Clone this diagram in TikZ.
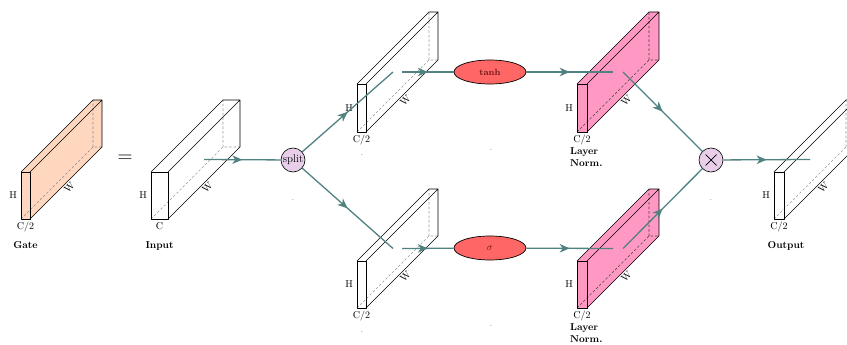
\documentclass[tikz,border=0pt]{standalone}
\usetikzlibrary{shapes.geometric,arrows.meta,decorations.markings,calc}
\definecolor{edgec}{RGB}{80,130,130}
\definecolor{gatec}{RGB}{255,214,190}
\definecolor{lnc}{RGB}{255,153,196}
\definecolor{ellc}{RGB}{255,102,102}
\definecolor{ellt}{RGB}{110,20,20}
\definecolor{ballc}{RGB}{233,206,233}
\tikzset{
  conn/.style={draw=edgec, line width=1.3pt, postaction={decorate},
    decoration={markings, mark=at position 0.5 with {\arrow[edgec]{Stealth[length=10pt,width=8.5pt,inset=3pt]}}}},
  frontedge/.style={draw=black, line width=0.9pt, line join=round},
  backedge/.style={draw=black, line width=0.6pt, line join=round},
  lbl/.style={inner sep=0pt, font=\normalsize},
  capt/.style={inner sep=0pt, font=\bfseries},
  opball/.style={circle, draw=black, line width=0.6pt, fill=ballc, minimum size=24pt, inner sep=0pt},
  actell/.style={ellipse, draw=black, line width=0.7pt, fill=ellc, minimum width=72pt, minimum height=24pt, inner sep=0pt, text=ellt},
  tinydot/.style={inner sep=0pt, font=\scriptsize}
}
% #1 name, #2 left x, #3 top y, #4 width, #5 height, #6 fill, #7 hidden-edge colour, #8 C label
\newcommand{\cuboid}[8]{%
  \pgfmathsetmacro\cbXr{#2+#4}%
  \pgfmathsetmacro\cbYb{#3+#5}%
  \pgfmathsetmacro\cbYm{#3+#5/2}%
  \pgfmathsetmacro\cbXc{#2+#4/2}%
  \coordinate (#1-ftl) at (#2,#3);
  \coordinate (#1-ftr) at (\cbXr,#3);
  \coordinate (#1-fbl) at (#2,\cbYb);
  \coordinate (#1-fbr) at (\cbXr,\cbYb);
  \coordinate (#1-btl) at ($(#1-ftl)+(72,-72)$);
  \coordinate (#1-btr) at ($(#1-ftr)+(72,-72)$);
  \coordinate (#1-bbl) at ($(#1-fbl)+(72,-72)$);
  \coordinate (#1-bbr) at ($(#1-fbr)+(72,-72)$);
  \coordinate (#1-west) at ($(#2,\cbYm)+(36,-36)$);
  \coordinate (#1-east) at ($(\cbXr,\cbYm)+(36,-36)$);
  \fill[#6] (#1-ftl) -- (#1-btl) -- (#1-btr) -- (#1-bbr) -- (#1-fbr) -- (#1-fbl) -- cycle;
  \fill[#6] (#1-ftl) -- (#1-ftr) -- (#1-fbr) -- (#1-fbl) -- cycle;
  \draw[#7, dashed, line width=0.55pt, dash pattern=on 2.5pt off 2pt] (#1-fbl) -- (#1-bbl) -- (#1-bbr) (#1-bbl) -- (#1-btl);
  \draw[backedge] (#1-ftl) -- (#1-btl) -- (#1-btr) -- (#1-bbr) -- (#1-fbr) (#1-ftr) -- (#1-btr);
  \draw[frontedge] (#1-ftl) rectangle (#1-fbr);
  \node[lbl, anchor=east] (#1-h) at ($(#2,\cbYm)+(-4,0)$) {H};
  \node[lbl, anchor=base] (#1-c) at (\cbXc,\cbYb+10.5) {#8};
  \node[lbl, rotate=45] (#1-w) at ($(#1-fbr)+(36,-36)+(3.5,5)$) {W};
}
\begin{document}
\begin{tikzpicture}[x=1pt,y=-1pt]
\useasboundingbox (0,0) rectangle (847,345);
\clip (0,0) rectangle (847,345);
\fill[white] (0,0) rectangle (847,345);

\cuboid{gate}{21}{172}{9}{47}{gatec}{black!45}{C/2}
\cuboid{in}{151}{172}{17}{47}{white}{black!40}{C}
\cuboid{ul}{357}{84}{9}{48}{white}{black!40}{C/2}
\cuboid{ll}{357}{261}{9}{47}{white}{black!40}{C/2}
\cuboid{un}{577}{84}{10}{48}{lnc}{black!75}{C/2}
\cuboid{ln}{577}{261}{10}{47}{lnc}{black!75}{C/2}
\cuboid{out}{774}{172}{10}{47}{white}{black!40}{C/2}

\node[capt, anchor=base] (gcap) at (25.5,248) {Gate};
\node[capt, anchor=base] (icap) at (159.5,248) {Input};
\node[capt, anchor=base] (ocap) at (786,248) {Output};
\node[capt, anchor=north west, align=left] (uncap) at (570,147.5) {Layer\\Norm.};
\node[capt, anchor=north west, align=left] (lncap) at (570,323.5) {Layer\\Norm.};

\node[inner sep=0pt, font=\fontsize{20}{24}\selectfont] (eq) at (125,158.5) {$=$};

\node[opball, font=\fontsize{11}{12}\selectfont] (split) at (293,160) {split};
\node[opball] (mul) at (711,160) {};
\draw[line width=0.7pt] ([shift={(-5.5,-5.5)}]mul.center) -- ([shift={(5.5,5.5)}]mul.center);
\draw[line width=0.7pt] ([shift={(-5.5,5.5)}]mul.center) -- ([shift={(5.5,-5.5)}]mul.center);

\node[actell, font=\small\bfseries] (tanh) at (490,72) {tanh};
\node[actell] (sig) at (490,248) {$\sigma$};

\draw[conn] (in-east) -- (split);
\draw[conn] (split) -- (ul-west);
\draw[conn] (split) -- (ll-west);
\draw[conn] (ul-east) -- (tanh);
\draw[conn] (ll-east) -- (sig);
\draw[conn] (tanh) -- (un-west);
\draw[conn] (sig) -- (ln-west);
\draw[conn] (un-east) -- (mul);
\draw[conn] (ln-east) -- (mul);
\draw[conn] (mul) -- (out-west);

\node[tinydot] (d1) at (293,200) {.};
\node[tinydot] (d2) at (362,155.5) {.};
\node[tinydot] (d3) at (491,150.5) {.};
\node[tinydot] (d4) at (362,332.5) {.};
\node[tinydot] (d5) at (491,326.5) {.};
\node[tinydot] (d6) at (711,200) {.};
\end{tikzpicture}
\end{document}
